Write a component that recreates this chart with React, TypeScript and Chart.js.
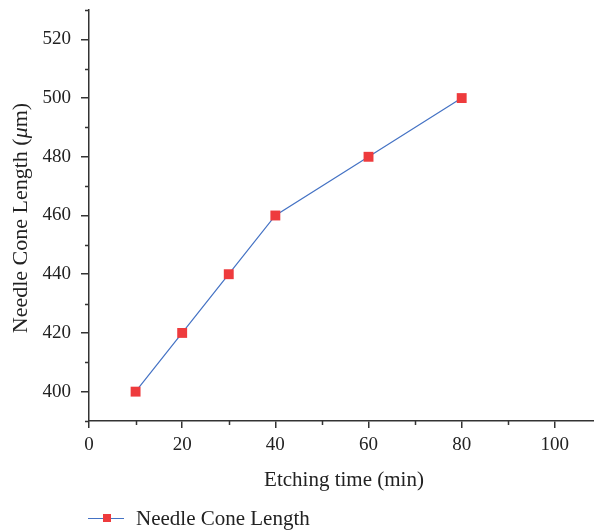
import React, { useEffect, useRef } from 'react';
import { Chart, registerables } from 'chart.js';

Chart.register(...registerables);

// Etching time (min) and measured needle cone length (µm)
const etchingTime = [10, 20, 30, 40, 60, 80];
const coneLength = [400, 420, 440, 460, 480, 500];

const seriesLabel = 'Needle Cone Length';
const xTitle = 'Etching time (min)';
const yTitleParts = [
  { text: 'Needle Cone Length (', italic: false },
  { text: 'μ', italic: true },
  { text: 'm)', italic: false },
];

const xMinorTicks = [10, 30, 50, 70, 90];
const yMinorTicks = [390, 410, 430, 450, 470, 490, 510, 530];

const FONT = '"Liberation Serif", "Times New Roman", serif';
const INK = '#222222';
const AXIS = '#333333';
const LINE_BLUE = '#4472c4';
const MARK_RED = '#ee3b3d';

const VIEW_W = 594;
const VIEW_H = 532;

// keep the plot area fixed: no extra room for overhanging tick labels
const zeroPadding = (s: any) => {
  s.paddingTop = 0;
  s.paddingBottom = 0;
  s.paddingLeft = 0;
  s.paddingRight = 0;
};

const decorPlugin = {
  id: 'decor',
  afterDraw(chart: any) {
    const { ctx, chartArea, scales } = chart;
    const xs = scales.x;
    const ys = scales.y;
    ctx.save();

    // minor ticks
    ctx.strokeStyle = AXIS;
    ctx.lineWidth = 1.5;
    ctx.beginPath();
    for (const v of yMinorTicks) {
      const py = Math.round(ys.getPixelForValue(v)) + 0.5;
      ctx.moveTo(chartArea.left - 4, py);
      ctx.lineTo(chartArea.left, py);
    }
    for (const v of xMinorTicks) {
      const px = Math.round(xs.getPixelForValue(v)) + 0.5;
      ctx.moveTo(px, chartArea.bottom);
      ctx.lineTo(px, chartArea.bottom + 4);
    }
    ctx.stroke();

    ctx.fillStyle = INK;

    // x title
    ctx.font = `21px ${FONT}`;
    ctx.textAlign = 'center';
    ctx.textBaseline = 'alphabetic';
    ctx.fillText(xTitle, 344, 486);

    // y title with italic mu
    ctx.save();
    ctx.translate(26.5, 218);
    ctx.rotate(-Math.PI / 2);
    ctx.textAlign = 'left';
    let total = 0;
    const widths = yTitleParts.map((p) => {
      ctx.font = `${p.italic ? 'italic ' : ''}22px ${FONT}`;
      const w = ctx.measureText(p.text).width;
      total += w;
      return w;
    });
    let cx = -total / 2;
    yTitleParts.forEach((p, i) => {
      ctx.font = `${p.italic ? 'italic ' : ''}22px ${FONT}`;
      ctx.fillText(p.text, cx, 0);
      cx += widths[i];
    });
    ctx.restore();

    // legend
    const ly = 518;
    ctx.strokeStyle = LINE_BLUE;
    ctx.lineWidth = 1.2;
    ctx.beginPath();
    ctx.moveTo(88, ly + 0.5);
    ctx.lineTo(124, ly + 0.5);
    ctx.stroke();
    ctx.fillStyle = MARK_RED;
    ctx.fillRect(103, ly - 4, 8, 8);
    ctx.fillStyle = INK;
    ctx.font = `21px ${FONT}`;
    ctx.textAlign = 'left';
    ctx.fillText(seriesLabel, 136, 525);

    ctx.restore();
  },
};

function buildChart(canvas: HTMLCanvasElement) {
  return new Chart(canvas, {
    type: 'line',
    data: {
      datasets: [
        {
          label: seriesLabel,
          data: etchingTime.map((x, i) => ({ x, y: coneLength[i] })),
          borderColor: LINE_BLUE,
          borderWidth: 1.2,
          pointStyle: 'rect',
          pointRadius: 7,
          pointHoverRadius: 7,
          pointBackgroundColor: MARK_RED,
          pointBorderColor: MARK_RED,
          pointBorderWidth: 0,
          tension: 0,
          fill: false,
        },
      ],
    },
    options: {
      responsive: false,
      animation: false,
      devicePixelRatio: 1,
      layout: { padding: { top: 10, right: 0, bottom: 0, left: 0 } },
      plugins: {
        legend: { display: false },
        tooltip: { enabled: false },
      },
      scales: {
        x: {
          type: 'linear',
          min: 0,
          max: 108.4,
          afterFit: (s: any) => {
            s.height = VIEW_H - 421;
            zeroPadding(s);
          },
          border: { display: true, color: AXIS, width: 1.5 },
          grid: {
            drawOnChartArea: false,
            drawTicks: true,
            tickLength: 7,
            lineWidth: 1.5,
            color: (c: any) => (c.tick && c.tick.value % 20 === 0 ? AXIS : 'rgba(0,0,0,0)'),
          },
          ticks: {
            stepSize: 10,
            includeBounds: false,
            maxRotation: 0,
            autoSkip: false,
            padding: 6,
            color: INK,
            font: { family: FONT, size: 19 },
            callback: (v: any) => (Number(v) % 20 === 0 ? String(v) : ''),
          },
        },
        y: {
          type: 'linear',
          min: 390,
          max: 530,
          afterFit: (s: any) => {
            s.width = 89;
            zeroPadding(s);
          },
          border: { display: true, color: AXIS, width: 1.5 },
          grid: {
            drawOnChartArea: false,
            drawTicks: true,
            tickLength: 8,
            lineWidth: 1.5,
            color: (c: any) => (c.tick && c.tick.value % 20 === 0 ? AXIS : 'rgba(0,0,0,0)'),
          },
          ticks: {
            stepSize: 10,
            autoSkip: false,
            padding: 10,
            color: INK,
            font: { family: FONT, size: 19 },
            callback: (v: any) => (Number(v) % 20 === 0 ? String(v) : ''),
          },
        },
      },
    },
    plugins: [decorPlugin],
  });
}

export default function App() {
  const canvasRef = useRef<HTMLCanvasElement | null>(null);

  useEffect(() => {
    const canvas = canvasRef.current;
    if (!canvas) return;
    let width = VIEW_W;
    canvas.width = width;
    canvas.height = VIEW_H;
    let chart = buildChart(canvas);

    // the layout keeps a small right margin; widen the canvas (clipped by the
    // container) until the x axis runs to the visible right edge
    for (let i = 0; i < 3; i++) {
      const gap = VIEW_W - chart.chartArea.right;
      if (Math.abs(gap) < 0.5) break;
      chart.destroy();
      width = Math.round(width + gap);
      canvas.width = width;
      canvas.height = VIEW_H;
      canvas.style.width = `${width}px`;
      canvas.style.height = `${VIEW_H}px`;
      chart = buildChart(canvas);
    }

    return () => chart.destroy();
  }, []);

  return (
    <div
      style={{
        position: 'absolute',
        left: 0,
        top: 0,
        width: VIEW_W,
        height: VIEW_H,
        overflow: 'hidden',
        background: '#fff',
      }}
    >
      <canvas ref={canvasRef} width={VIEW_W} height={VIEW_H} style={{ display: 'block' }} />
    </div>
  );
}
